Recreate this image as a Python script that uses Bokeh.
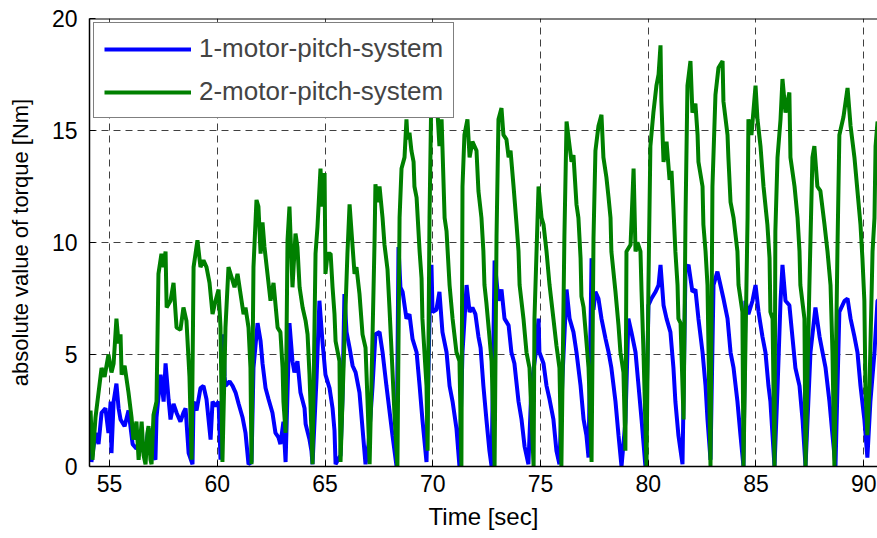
from bokeh.plotting import figure
from bokeh.models import Range1d, FixedTicker, Legend, LegendItem, Span
from bokeh.embed import file_html
from bokeh.resources import INLINE

# ---- data (time in sec, |torque| in Nm) ----
t_green = [54.12, 54.21, 54.35, 54.49, 54.63, 54.77, 54.95, 55.09, 55.19, 55.32, 55.42, 55.51,
           55.56, 55.70, 55.88, 56.02, 56.11, 56.25, 56.35, 56.49, 56.58, 56.67, 56.76, 56.81,
           56.90, 56.95, 57.04, 57.18, 57.27, 57.41, 57.51, 57.60, 57.65, 57.83, 57.97, 58.11,
           58.29, 58.43, 58.57, 58.71, 58.81, 58.90, 59.08, 59.22, 59.36, 59.50, 59.64, 59.78,
           59.92, 60.06, 60.15, 60.20, 60.24, 60.38, 60.52, 60.71, 60.80, 60.94, 61.08, 61.22,
           61.31, 61.45, 61.54, 61.59, 61.68, 61.82, 61.91, 62.01, 62.10, 62.19, 62.33, 62.47,
           62.61, 62.80, 62.93, 63.03, 63.07, 63.17, 63.26, 63.35, 63.49, 63.63, 63.72, 63.82,
           63.96, 64.10, 64.19, 64.28, 64.37, 64.42, 64.56, 64.65, 64.79, 64.88, 64.98, 65.02,
           65.12, 65.26, 65.35, 65.44, 65.49, 65.67, 65.72, 65.90, 66.04, 66.14, 66.28, 66.37,
           66.46, 66.60, 66.74, 66.88, 66.97, 67.07, 67.20, 67.30, 67.34, 67.44, 67.53, 67.67,
           67.76, 67.90, 67.99, 68.09, 68.23, 68.36, 68.46, 68.55, 68.69, 68.78, 68.83, 68.92,
           69.01, 69.11, 69.15, 69.25, 69.39, 69.48, 69.52, 69.71, 69.76, 69.85, 69.94, 70.03,
           70.22, 70.31, 70.41, 70.55, 70.64, 70.78, 70.92, 71.10, 71.24, 71.33, 71.38, 71.47,
           71.61, 71.71, 71.84, 72.03, 72.12, 72.26, 72.35, 72.40, 72.49, 72.63, 72.73, 72.87,
           72.96, 73.05, 73.19, 73.28, 73.42, 73.52, 73.61, 73.75, 73.89, 73.98, 74.03, 74.21,
           74.35, 74.49, 74.68, 74.72, 74.91, 75.05, 75.14, 75.28, 75.42, 75.60, 75.74, 75.88,
           75.97, 76.11, 76.21, 76.35, 76.44, 76.53, 76.67, 76.76, 76.86, 76.90, 77.00, 77.13,
           77.23, 77.37, 77.46, 77.55, 77.69, 77.83, 77.92, 78.06, 78.16, 78.25, 78.29, 78.48,
           78.62, 78.71, 78.85, 78.94, 78.99, 79.18, 79.32, 79.41, 79.50, 79.64, 79.69, 79.78,
           79.92, 80.01, 80.10, 80.24, 80.38, 80.48, 80.57, 80.61, 80.71, 80.85, 80.99, 81.08,
           81.17, 81.26, 81.36, 81.40, 81.50, 81.59, 81.64, 81.73, 81.82, 81.96, 82.05, 82.19,
           82.29, 82.33, 82.52, 82.56, 82.66, 82.75, 82.80, 82.89, 82.98, 83.12, 83.26, 83.45,
           83.49, 83.68, 83.72, 83.82, 83.96, 84.14, 84.19, 84.37, 84.42, 84.61, 84.65, 84.79,
           84.98, 85.07, 85.21, 85.35, 85.53, 85.63, 85.67, 85.77, 85.86, 85.90, 86.00, 86.14,
           86.23, 86.37, 86.55, 86.60, 86.79, 86.93, 87.02, 87.06, 87.25, 87.30, 87.48, 87.62,
           87.71, 87.85, 87.99, 88.18, 88.32, 88.46, 88.55, 88.64, 88.78, 88.87, 89.06, 89.25,
           89.39, 89.57, 89.71, 89.85, 89.94, 90.03, 90.08, 90.17, 90.27, 90.41, 90.50, 90.55,
           90.64, 90.78]
v_green = [2.5, 0.3, 2.2, 3.3, 4.4, 4.0, 5.0, 4.2, 4.6, 6.6, 5.5, 5.9,
           4.1, 4.5, 3.3, 2.2, 1.2, 2.0, 0.3, 2.0, 0.5, 0.1, 1.5, 1.8,
           0.3, 0.1, 2.3, 2.9, 8.6, 9.5, 8.9, 9.6, 7.1, 7.4, 8.2, 6.2,
           6.1, 7.1, 6.5, 4.0, 0.3, 8.9, 10.1, 8.9, 9.2, 8.9, 8.2, 6.8,
           7.4, 7.9, 6.2, 2.9, 0.2, 6.2, 8.9, 8.3, 8.0, 8.6, 7.7, 6.8,
           7.1, 6.2, 4.4, 0.1, 8.9, 11.9, 11.6, 9.5, 10.9, 9.8, 8.6, 7.4,
           8.2, 6.2, 6.0, 4.4, 2.9, 1.5, 10.1, 11.6, 8.0, 10.4, 9.8, 8.0,
           7.1, 6.5, 5.9, 4.1, 1.5, 0.1, 9.5, 10.7, 13.3, 11.6, 13.1, 8.6,
           9.5, 9.5, 8.0, 6.8, 5.6, 4.7, 0.2, 5.6, 9.5, 11.7, 9.8, 8.6,
           8.9, 7.7, 5.9, 5.3, 3.0, 0.1, 5.6, 10.1, 12.6, 11.8, 12.5, 11.1,
           9.9, 8.8, 7.1, 5.1, 2.2, 0.0, 11.1, 13.3, 13.8, 15.5, 14.6, 14.9,
           14.1, 13.6, 12.5, 12.0, 9.6, 8.4, 6.6, 3.6, 0.7, 11.1, 17.0, 17.5,
           15.8, 14.3, 15.5, 11.1, 10.5, 8.1, 6.6, 5.1, 4.7, 0.0, 12.5, 14.8,
           15.5, 13.8, 14.5, 14.1, 12.3, 11.1, 9.6, 8.1, 7.3, 5.8, 4.7, 0.0,
           10.3, 15.5, 16.0, 14.8, 14.6, 13.8, 14.1, 12.5, 10.8, 9.6, 8.1, 6.6,
           5.1, 4.4, 0.0, 6.6, 12.5, 11.1, 10.8, 9.6, 8.1, 6.6, 5.4, 4.4,
           0.0, 10.3, 15.4, 14.3, 13.6, 13.9, 11.7, 11.1, 9.3, 7.6, 7.1, 5.6,
           4.4, 0.2, 10.2, 14.1, 15.2, 15.7, 13.8, 12.9, 12.0, 11.1, 9.6, 7.8,
           6.3, 5.1, 4.2, 0.7, 9.6, 9.9, 13.3, 9.6, 10.0, 9.6, 7.8, 5.1,
           0.0, 8.1, 14.3, 15.8, 17.0, 17.5, 18.8, 16.3, 13.6, 14.5, 12.8, 13.2,
           11.5, 9.6, 8.1, 6.6, 6.4, 3.6, 2.1, 11.1, 17.0, 18.1, 15.8, 16.2,
           14.8, 13.6, 12.5, 10.8, 9.6, 8.1, 5.1, 0.0, 12.5, 16.6, 17.8, 18.1,
           16.3, 14.8, 13.8, 11.8, 11.1, 9.6, 8.1, 6.9, 0.0, 11.1, 15.5, 14.8,
           17.0, 15.5, 14.3, 12.5, 10.8, 9.3, 6.9, 6.6, 0.0, 10.5, 13.8, 15.5,
           17.3, 15.8, 16.7, 13.8, 12.5, 11.1, 9.6, 8.1, 6.6, 0.0, 8.1, 13.8,
           14.3, 12.5, 12.3, 10.8, 9.6, 8.1, 5.1, 0.0, 9.6, 14.8, 15.6, 16.9,
           15.2, 13.8, 12.3, 10.8, 9.3, 7.4, 3.6, 1.4, 3.6, 9.6, 11.1, 14.3,
           15.4, 15.0]

t_blue = [54.12, 54.16, 54.35, 54.49, 54.63, 54.81, 54.95, 55.05, 55.09, 55.19, 55.32, 55.42,
          55.51, 55.70, 55.88, 56.07, 56.25, 56.44, 56.62, 56.81, 57.00, 57.13, 57.18, 57.37,
          57.51, 57.60, 57.74, 57.83, 57.97, 58.11, 58.29, 58.43, 58.53, 58.67, 58.85, 58.90,
          59.04, 59.22, 59.36, 59.50, 59.69, 59.78, 59.92, 60.06, 60.15, 60.29, 60.34, 60.38,
          60.57, 60.71, 60.85, 60.99, 61.17, 61.31, 61.45, 61.59, 61.68, 61.87, 62.01, 62.10,
          62.24, 62.38, 62.56, 62.70, 62.84, 62.93, 63.07, 63.17, 63.35, 63.49, 63.58, 63.72,
          63.86, 64.05, 64.10, 64.28, 64.37, 64.42, 64.61, 64.74, 64.88, 65.02, 65.21, 65.35,
          65.44, 65.49, 65.72, 65.81, 65.90, 66.00, 66.14, 66.28, 66.42, 66.60, 66.74, 66.88,
          67.02, 67.20, 67.34, 67.53, 67.67, 67.85, 67.99, 68.13, 68.32, 68.41, 68.50, 68.60,
          68.78, 68.92, 69.06, 69.25, 69.39, 69.52, 69.71, 69.85, 69.94, 69.99, 70.17, 70.31,
          70.45, 70.64, 70.78, 70.92, 71.10, 71.24, 71.38, 71.57, 71.71, 71.84, 71.98, 72.12,
          72.22, 72.35, 72.49, 72.63, 72.73, 72.87, 73.05, 73.19, 73.33, 73.52, 73.65, 73.79,
          73.98, 74.12, 74.26, 74.44, 74.58, 74.77, 74.91, 74.95, 75.14, 75.28, 75.42, 75.60,
          75.74, 75.88, 76.02, 76.21, 76.35, 76.53, 76.67, 76.86, 77.00, 77.13, 77.23, 77.37,
          77.46, 77.55, 77.69, 77.83, 78.02, 78.16, 78.29, 78.48, 78.62, 78.76, 78.94, 79.08,
          79.22, 79.41, 79.55, 79.69, 79.87, 80.01, 80.15, 80.34, 80.48, 80.57, 80.71, 80.85,
          81.03, 81.17, 81.26, 81.40, 81.59, 81.73, 81.87, 82.05, 82.19, 82.33, 82.52, 82.66,
          82.75, 82.89, 83.03, 83.21, 83.35, 83.49, 83.68, 83.82, 83.96, 84.14, 84.28, 84.42,
          84.51, 84.65, 84.84, 84.98, 85.12, 85.30, 85.44, 85.58, 85.67, 85.86, 86.00, 86.14,
          86.23, 86.37, 86.55, 86.69, 86.83, 87.02, 87.16, 87.30, 87.53, 87.76, 87.95, 88.09,
          88.23, 88.41, 88.55, 88.69, 88.87, 89.11, 89.25, 89.39, 89.57, 89.71, 89.85, 90.03,
          90.17, 90.31, 90.50, 90.64, 90.78]
v_blue = [1.6, 0.2, 1.5, 1.0, 2.4, 2.6, 1.5, 2.9, 0.6, 2.9, 3.7, 2.6,
          2.1, 1.8, 2.5, 1.0, 0.8, 1.2, 0.5, 1.7, 0.6, 0.3, 2.2, 4.1,
          2.9, 4.6, 3.0, 2.1, 2.8, 2.4, 2.0, 2.4, 2.6, 0.6, 0.1, 2.9,
          2.5, 3.5, 3.6, 3.0, 1.2, 2.9, 2.7, 2.9, 0.3, 5.9, 4.0, 3.6,
          3.8, 3.6, 3.3, 2.8, 2.2, 1.5, 0.1, 0.2, 4.4, 6.4, 5.6, 4.6,
          3.5, 3.0, 2.4, 1.5, 1.3, 1.0, 2.0, 0.2, 6.4, 4.7, 4.2, 4.7,
          3.3, 2.6, 1.9, 1.2, 0.7, 0.1, 4.0, 7.4, 5.6, 4.1, 3.5, 2.6,
          1.6, 0.1, 0.5, 3.0, 7.7, 6.0, 5.3, 4.5, 4.2, 3.3, 1.7, 0.1,
          1.0, 3.5, 5.9, 6.0, 5.1, 3.6, 2.5, 1.4, 0.0, 9.8, 8.0, 7.8,
          6.6, 6.8, 5.7, 5.1, 3.6, 2.1, 0.2, 6.6, 9.0, 6.9, 7.0, 7.8,
          6.0, 5.1, 3.6, 2.9, 1.7, 0.0, 5.1, 8.1, 6.9, 7.1, 6.8, 5.8,
          5.3, 3.6, 2.1, 0.7, 0.0, 9.2, 7.4, 7.9, 6.6, 6.3, 5.1, 4.6,
          2.9, 2.1, 0.9, 0.1, 3.6, 5.0, 6.6, 5.1, 4.6, 3.6, 3.0, 2.1,
          0.7, 0.1, 4.0, 7.9, 6.6, 6.0, 5.1, 3.6, 2.1, 1.4, 0.4, 9.3,
          7.0, 7.8, 7.5, 6.6, 5.7, 5.1, 4.4, 2.9, 1.4, 0.0, 2.0, 6.6,
          6.0, 5.1, 3.6, 2.1, 0.0, 7.2, 7.5, 7.8, 8.1, 9.0, 7.2, 6.6,
          6.0, 4.4, 2.9, 1.4, 0.1, 8.8, 9.0, 7.8, 7.9, 6.6, 5.1, 3.6,
          2.1, 0.3, 8.1, 8.7, 8.1, 7.5, 6.6, 5.1, 4.4, 2.9, 1.4, 0.0,
          7.4, 6.8, 7.4, 8.1, 6.9, 5.8, 5.1, 3.6, 2.9, 0.0, 3.5, 7.4,
          9.0, 7.4, 7.2, 5.8, 4.4, 3.6, 2.1, 0.0, 5.1, 7.1, 5.8, 5.1,
          4.4, 2.9, 1.4, 0.0, 6.9, 7.4, 7.5, 6.6, 5.8, 5.1, 3.6, 2.1,
          0.4, 2.9, 5.1, 7.4, 7.5]

x_ticks = [55, 60, 65, 70, 75, 80, 85, 90]
y_ticks = [0, 5, 10, 15, 20]
series_names = ["1-motor-pitch-system", "2-motor-pitch-system"]
series_colors = ["#0000ff", "#008000"]

FONT = "Liberation Sans"

p = figure(width=877, height=538, output_backend="svg", toolbar_location=None,
           x_range=Range1d(54.07, 90.64), y_range=Range1d(0, 20),
           min_border_left=89, min_border_right=0, min_border_top=18, min_border_bottom=72)
p.outline_line_color = None
p.background_fill_color = "white"
p.border_fill_color = "white"

rb = p.line(t_blue, v_blue, line_color=series_colors[0], line_width=4)
rg = p.line(t_green, v_green, line_color=series_colors[1], line_width=4)

for ax in (p.xaxis[0], p.yaxis[0]):
    ax.major_tick_in = 6
    ax.major_tick_out = 0
    ax.minor_tick_line_color = None
    ax.axis_line_width = 1.5
    ax.axis_line_color = "black"
    ax.major_tick_line_color = "black"
    ax.major_label_text_font = FONT
    ax.major_label_text_font_size = "23px"
    ax.major_label_text_color = "black"
    ax.axis_label_text_font = FONT
    ax.axis_label_text_font_style = "normal"
    ax.axis_label_text_color = "black"

p.xaxis[0].ticker = FixedTicker(ticks=x_ticks)
p.yaxis[0].ticker = FixedTicker(ticks=y_ticks)
p.xaxis[0].axis_label = "Time [sec]"
p.yaxis[0].axis_label = "absolute value of torque [Nm]"
p.xaxis[0].axis_label_text_font_size = "24px"
p.yaxis[0].axis_label_text_font_size = "22px"
p.xaxis[0].major_label_standoff = 8
p.yaxis[0].major_label_standoff = 12
p.xaxis[0].axis_label_standoff = 8
p.yaxis[0].axis_label_standoff = 16

# top border of the box
p.add_layout(Span(location=20, dimension="width", line_color="black", line_width=2))

p.xgrid.ticker = FixedTicker(ticks=x_ticks)
p.ygrid.ticker = FixedTicker(ticks=y_ticks)
for g in (p.xgrid[0], p.ygrid[0]):
    g.grid_line_color = "#404040"
    g.grid_line_dash = "7 5"
    g.grid_line_width = 1

legend = Legend(items=[LegendItem(label=series_names[0], renderers=[rb]),
                       LegendItem(label=series_names[1], renderers=[rg])],
                location="top_left", margin=4, padding=10, spacing=12,
                glyph_width=87, glyph_height=28, label_height=28, label_standoff=8,
                label_text_font=FONT, label_text_font_size="26px",
                border_line_color="black", border_line_width=1.5,
                background_fill_color="white", background_fill_alpha=1.0)
p.add_layout(legend)

open("out.html", "w").write(file_html(p, INLINE))
